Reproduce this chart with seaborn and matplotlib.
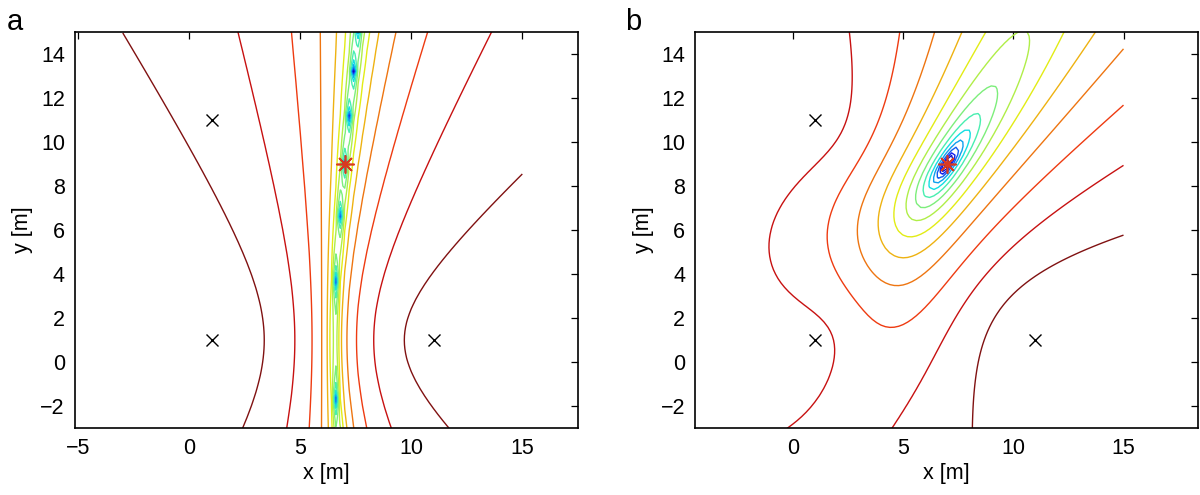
import numpy as np
import matplotlib
matplotlib.use("Agg")
import matplotlib.pyplot as plt
import seaborn as sns

# sensor positions [m]
sensor_x = [1, 1, 11]
sensor_y = [11, 1, 1]

# true source position [m]
source_x = 7
source_y = 9

# sensor pairs (indices into sensor lists) entering each cost surface
pairs_a = [(1, 2)]
pairs_b = [(0, 2), (1, 2)]

# contour levels of the cost (sum of squared range-difference errors) [m^2]
levels_a = [39.8, 12.6, 3.98, 1.26, 0.398, 0.126, 0.0398, 0.0126, 0.00398,
            0.00126, 0.000398, 0.000126, 3.98e-5, 1.26e-5, 3.98e-6]
levels_b = [185, 100, 54, 29.3, 15.9, 8.6, 4.65, 2.52, 1.36, 0.74, 0.40,
            0.216, 0.117, 0.063, 0.034]

# panel settings
panel_names = ["a", "b"]
xlims = [(-5.17, 17.5), (-4.44, 18.4)]
xticks = [[-5, 0, 5, 10, 15], [0, 5, 10, 15]]
yticks = [-2, 0, 2, 4, 6, 8, 10, 12, 14]


def tdoa_cost(X, Y, pairs):
    """Sum of squared range-difference errors w.r.t. the true source."""
    sx = np.array(sensor_x, dtype=float)
    sy = np.array(sensor_y, dtype=float)
    d = [np.hypot(X - sx[i], Y - sy[i]) for i in range(len(sx))]
    d0 = np.hypot(source_x - sx, source_y - sy)
    J = np.zeros_like(X)
    for i, j in pairs:
        r = (d[i] - d[j]) - (d0[i] - d0[j])
        J += r ** 2
    return J


def level_colors(n):
    # jet, toned down slightly like the printed figure
    cmap = plt.get_cmap("jet")
    out = []
    for k in range(n):
        c = np.array(cmap(k / (n - 1))[:3])
        out.append(tuple(0.87 * c + 0.13 * 0.5))
    return out


def draw_panel(ax, J, levels, xlim, xt, name, fig, letter_x):
    lv = np.log(np.sort(np.array(levels)))
    ax.contour(grid_X, grid_Y, np.log(J + 1e-14), levels=lv,
               colors=level_colors(len(lv)), linewidths=1.0)
    ax.plot(sensor_x, sensor_y, "x", color="black", markersize=8.5, mew=1.0)
    ax.plot(source_x, source_y, marker=(8, 2, 0), color="#d93a1f",
            markersize=13, mew=1.2, linestyle="none")
    ax.set_xlim(*xlim)
    ax.set_ylim(-3, 15)
    ax.set_xticks(xt)
    ax.set_yticks(yticks)
    ax.set_xticklabels([str(v).replace("-", "\u2212") for v in xt])
    ax.set_yticklabels([str(v).replace("-", "\u2212") for v in yticks])
    ax.tick_params(direction="in", top=True, right=True, length=5,
                   width=0.9, labelsize=15.5, pad=7, colors="black")
    for sp in ax.spines.values():
        sp.set_visible(True)
        sp.set_linewidth(1.2)
        sp.set_color("black")
    ax.set_xlabel("x [m]", fontsize=15.5, labelpad=3, color="black")
    ax.set_ylabel("y [m]", fontsize=15.5, labelpad=5, color="black")
    fig.text(letter_x, 0.955, name, fontsize=21, ha="center", va="center",
             color="black")


sns.set_style("white")
plt.rcParams["font.family"] = ["Liberation Sans", "DejaVu Sans"]
plt.rcParams["text.color"] = "black"

grid_x = np.arange(-3, 15.001, 0.2)
grid_y = np.arange(-3, 15.001, 0.2)
grid_X, grid_Y = np.meshgrid(grid_x, grid_y)

fig = plt.figure(figsize=(12, 4.95), dpi=100)
ax_a = fig.add_axes([0.0622, 0.1347, 0.4193, 0.8012])
ax_b = fig.add_axes([0.5792, 0.1347, 0.4195, 0.8012])

J_a = tdoa_cost(grid_X, grid_Y, pairs_a)
J_b = tdoa_cost(grid_X, grid_Y, pairs_b)

draw_panel(ax_a, J_a, levels_a, xlims[0], xticks[0], panel_names[0], fig, 0.0125)
draw_panel(ax_b, J_b, levels_b, xlims[1], xticks[1], panel_names[1], fig, 0.528)

fig.savefig("out.png", dpi=100)
